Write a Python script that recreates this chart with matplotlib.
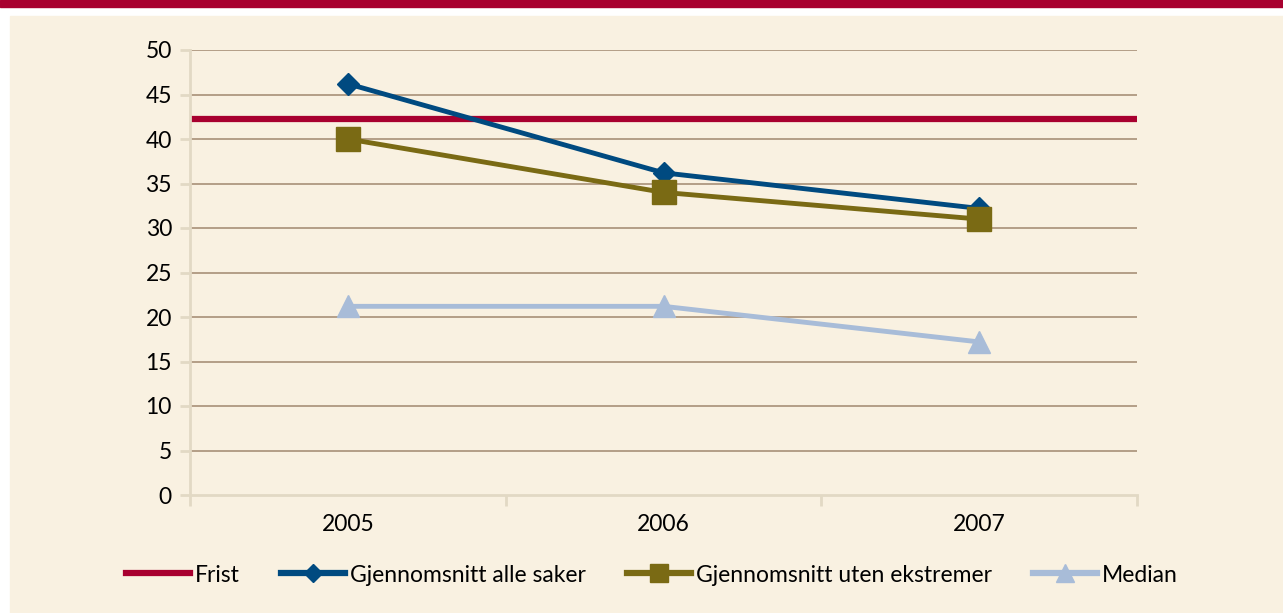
import matplotlib.pyplot as plt
from matplotlib.lines import Line2D

# data
years = ["2005", "2006", "2007"]
frist = 42.2
snitt_alle = [46.2, 36.2, 32.2]
snitt_uten = [40.0, 34.0, 31.0]
median = [21.2, 21.2, 17.2]
yticks = list(range(0, 55, 5))

bg = "#f9f1e1"
red = "#a8002f"
blue = "#004a80"
gold = "#7a6a14"
lightblue = "#a8bcd8"
grid = "#a89078"
axcol = "#e2d9c4"

plt.rcParams['font.family'] = ['Lato', 'DejaVu Sans']

fig = plt.figure(figsize=(12.83, 6.13), dpi=100)
fig.patch.set_facecolor("white")

# header band and cream panel
fig.patches.append(plt.Rectangle((0, 1 - 7 / 613), 1, 7 / 613, transform=fig.transFigure,
                                 color=red, zorder=-2))
fig.patches.append(plt.Rectangle((10 / 1283, 0), 1, 1 - 16 / 613, transform=fig.transFigure,
                                 color=bg, zorder=-2))

ax = fig.add_axes([190 / 1283, 1 - 495 / 613, 947 / 1283, 445 / 613])
ax.set_zorder(2)
ax.patch.set_alpha(0)

x = range(len(years))
ax.set_xlim(-0.5, len(years) - 0.5)
ax.set_ylim(0, 50)
ax.set_yticks(yticks)
for v in yticks[1:]:
    ax.axhline(v, color=grid, lw=1.2, zorder=1)

ax.axhline(frist, color=red, lw=4.5, zorder=2)
ax.plot(x, snitt_alle, color=blue, lw=3.5, marker="D", ms=11, zorder=3)
ax.plot(x, snitt_uten, color=gold, lw=3.5, marker="s", ms=17, zorder=4)
ax.plot(x, median, color=lightblue, lw=3.5, marker="^", ms=16, zorder=3)

ax.set_xticks([i - 0.5 for i in range(len(years) + 1)])
ax.set_xticklabels([])
ax.set_xticks(list(x), minor=True)
ax.set_xticklabels(years, minor=True, fontsize=16.5)
ax.tick_params(axis="x", which="minor", length=0, pad=14)
ax.tick_params(axis="x", which="major", length=8, color=axcol, width=2)
ax.tick_params(axis="y", length=7, color=axcol, width=2, labelsize=16.5, pad=6)

for s in ["top", "right"]:
    ax.spines[s].set_visible(False)
for s in ["left", "bottom"]:
    ax.spines[s].set_color(axcol)
    ax.spines[s].set_linewidth(2)

handles = [
    Line2D([], [], color=red, lw=4.5),
    Line2D([], [], color=blue, lw=4.5, marker="D", ms=9),
    Line2D([], [], color=gold, lw=4.5, marker="s", ms=13),
    Line2D([], [], color=lightblue, lw=4.5, marker="^", ms=13),
]
labels = ["Frist", "Gjennomsnitt alle saker", "Gjennomsnitt uten ekstremer", "Median"]
fig.legend(handles, labels, loc="center", bbox_to_anchor=(0.508, 1 - 575 / 613), ncol=4,
           frameon=False, fontsize=16.5, handlelength=2.8, handletextpad=0.2,
           columnspacing=1.8)

fig.savefig("out.png", dpi=100, facecolor=fig.get_facecolor())
